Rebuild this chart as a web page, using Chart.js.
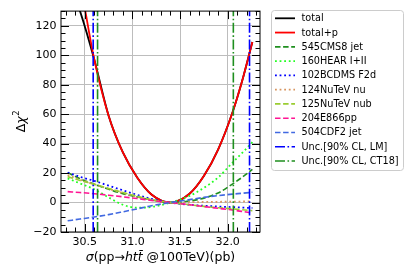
<!DOCTYPE html>
<html>
<head>
<meta charset="utf-8">
<script src="https://cdn.jsdelivr.net/npm/chart.js@4.4.0/dist/chart.umd.min.js"></script>
<style>
  html, body { margin: 0; padding: 0; background: #fff; }
</style>
</head>
<body>
<canvas id="chart" width="420" height="280"></canvas>
<script>
// sample points along sigma (pb)
const xs = [30.32, 30.45, 30.6, 30.75, 30.9, 31.05, 31.2, 31.4, 31.6, 31.75, 31.9, 32.05, 32.15, 32.26];

const total    = [153, 130, 97, 59, 34, 17, 5.5, 0, 6, 18, 36, 61, 82, 109];
const totalP   = [175, 148, 97, 59, 34, 17, 5.5, 0, 6, 18, 36, 61, 82, 109];
const cms8jet  = [20.3, 16.2, 12.5, 9, 6, 3.8, 1.8, 0, 1, 3, 6.5, 12.5, 17, 22.5];
const hera     = [16.4, 13, 9, 3.5, -1.5, -3.5, -3, 0, 4.5, 10, 17, 27, 33.5, 41];
const bcdms    = [20.3, 17.5, 14.7, 11.5, 8.3, 5.2, 2.5, 0, -1.5, -2.2, -2.7, -3.1, -3.4, -3.7];
const nutevNu  = [18.7, 15.5, 12.3, 9.3, 6.5, 4, 1.8, 0, 0.2, 0.4, 0.5, 0.6, 0.7, 0.8];
const nutevNub = [17.6, 15, 12.4, 9.6, 6.8, 4.3, 2, 0, -1.5, -2.6, -3.5, -4.3, -4.9, -5.5];
const e866pp   = [7.4, 6.8, 6, 5, 3.9, 2.7, 1.4, 0, -1.5, -2.7, -3.9, -5.1, -6, -7.2];
const cdf2jet  = [-12.4, -11.2, -9.8, -8.2, -6.3, -4.3, -2.2, 0, 2, 3.5, 4.7, 5.7, 6.3, 7];

// 90% CL bounds (pb)
const lmBounds   = [30.588, 32.23];
const ct18Bounds = [30.634, 32.06];

const xRange = [30.25, 32.34];
const yRange = [-20, 130];
const xTicks = [30.5, 31.0, 31.5, 32.0];
const yTicks = [-20, 0, 20, 40, 60, 80, 100, 120];
const xMinorStep = 0.1;
const yMinorStep = 5;

const DASHED = [5.5, 2.6];
const DOTTED = [1.8, 2.8];
const DASHDOT = [10, 2.5, 1.6, 2.5];

const series = (label, ys, color, width, dash) => ({
  label: label,
  data: xs.map((x, i) => ({ x: x, y: ys[i] })),
  borderColor: color,
  borderWidth: width,
  borderDash: dash,
  pointRadius: 0,
  cubicInterpolationMode: "monotone",
  fill: false,
});

const vlines = (label, bounds, color) => ({
  label: label,
  data: [
    { x: bounds[0], y: yRange[0] },
    { x: bounds[0], y: yRange[1] },
    { x: bounds[0], y: null },
    { x: bounds[1], y: yRange[0] },
    { x: bounds[1], y: yRange[1] },
  ],
  borderColor: color,
  borderWidth: 1.6,
  borderDash: DASHDOT,
  pointRadius: 0,
  tension: 0,
  spanGaps: false,
  fill: false,
});

const datasets = [
  series("total", total, "#000000", 1.8, []),
  series("total+p", totalP, "#ff0000", 1.8, []),
  series("545CMS8 jet", cms8jet, "#1f8f1f", 1.6, DASHED),
  series("160HEAR I+II", hera, "#22ff22", 1.8, DOTTED),
  series("102BCDMS F2d", bcdms, "#0000ff", 1.8, DOTTED),
  series("124NuTeV nu", nutevNu, "#d8955f", 1.8, DOTTED),
  series("125NuTeV nub", nutevNub, "#9acd32", 1.6, DASHED),
  series("204E866pp", e866pp, "#ff1493", 1.6, DASHED),
  series("504CDF2 jet", cdf2jet, "#4169e1", 1.6, DASHED),
  vlines("Unc.[90% CL, LM]", lmBounds, "#0000ff"),
  vlines("Unc.[90% CL, CT18]", ct18Bounds, "#1f8f1f"),
];
// later datasets on top, like matplotlib
datasets.forEach((d, i) => { d.order = datasets.length - i; });

const FONT = '"DejaVu Sans", sans-serif';

const frameAndTicks = {
  id: "frameAndTicks",
  afterDatasetsDraw(chart) {
    const { ctx, chartArea: a, scales } = chart;
    const sx = scales.x, sy = scales.y;
    ctx.save();
    ctx.strokeStyle = "#000";
    ctx.lineWidth = 1;
    ctx.setLineDash([]);
    const tick = (x1, y1, x2, y2) => {
      ctx.beginPath(); ctx.moveTo(x1, y1); ctx.lineTo(x2, y2); ctx.stroke();
    };
    for (let v = Math.ceil(xRange[0] / xMinorStep) * xMinorStep; v <= xRange[1]; v += xMinorStep) {
      const major = xTicks.some((t) => Math.abs(t - v) < 1e-6);
      const len = major ? 8 : 4.5;
      const px = Math.round(sx.getPixelForValue(v)) + 0.5;
      tick(px, a.bottom, px, a.bottom - len);
      tick(px, a.top, px, a.top + len);
    }
    for (let v = yRange[0]; v <= yRange[1]; v += yMinorStep) {
      const major = yTicks.includes(v);
      const len = major ? 8 : 4.5;
      const py = Math.round(sy.getPixelForValue(v)) + 0.5;
      tick(a.left, py, a.left + len, py);
      tick(a.right, py, a.right - len, py);
    }
    ctx.strokeRect(a.left, a.top, a.right - a.left, a.bottom - a.top);
    ctx.restore();
  },
  afterDraw(chart) {
    const { ctx, chartArea: a } = chart;
    ctx.save();
    ctx.fillStyle = "#000";
    // x title with italic parts
    const parts = [
      ["σ", true], ["(pp→", false], ["htt\u0304", true], [" @100TeV)(pb)", false],
    ];
    const size = 12.5;
    const fontFor = (it) => (it ? "italic " : "") + size + "px " + FONT;
    let w = 0;
    parts.forEach(([t, it]) => { ctx.font = fontFor(it); w += ctx.measureText(t).width; });
    let x = (a.left + a.right) / 2 - w / 2;
    ctx.textBaseline = "middle";
    ctx.textAlign = "left";
    parts.forEach(([t, it]) => {
      ctx.font = fontFor(it);
      ctx.fillText(t, x, 258);
      x += ctx.measureText(t).width;
    });
    // y title
    ctx.translate(22, (a.top + a.bottom) / 2);
    ctx.rotate(-Math.PI / 2);
    ctx.font = size + "px " + FONT;
    const d = ctx.measureText("Δ").width;
    ctx.font = "italic " + size + "px " + FONT;
    const c = ctx.measureText("χ").width;
    ctx.font = "8.5px " + FONT;
    const s = ctx.measureText("2").width;
    let yx = -(d + c + s) / 2;
    ctx.font = size + "px " + FONT;
    ctx.fillText("Δ", yx, 0);
    yx += d;
    ctx.font = "italic " + size + "px " + FONT;
    ctx.fillText("χ", yx, 0);
    yx += c;
    ctx.font = "8.5px " + FONT;
    ctx.fillText("2", yx + 0.5, -5);
    ctx.restore();

    // legend
    ctx.save();
    const lx = 271, ly = 10, lw = 132, lh = 160, r = 3;
    ctx.beginPath();
    ctx.roundRect(lx + 0.5, ly + 0.5, lw, lh, r);
    ctx.fillStyle = "rgba(255,255,255,0.8)";
    ctx.fill();
    ctx.strokeStyle = "#cccccc";
    ctx.lineWidth = 1;
    ctx.stroke();
    chart.data.datasets.forEach((ds, i) => {
      const y = 18.3 + i * 14.27;
      ctx.setLineDash(ds.borderDash || []);
      ctx.strokeStyle = ds.borderColor;
      ctx.lineWidth = ds.borderWidth;
      ctx.beginPath();
      ctx.moveTo(275, y);
      ctx.lineTo(295, y);
      ctx.stroke();
      ctx.setLineDash([]);
      ctx.fillStyle = "#000";
      ctx.font = "9.7px " + FONT;
      ctx.textBaseline = "middle";
      ctx.fillText(ds.label, 301.5, y + 0.5);
    });
    ctx.restore();
  },
};

new Chart(document.getElementById("chart"), {
  type: "line",
  data: { datasets: datasets },
  options: {
    responsive: false,
    animation: false,
    layout: { padding: { top: 10, right: 160, left: 0, bottom: 0 } },
    plugins: {
      legend: { display: false },
      tooltip: { enabled: false },
    },
    scales: {
      x: {
        type: "linear",
        min: xRange[0],
        max: xRange[1],
        afterBuildTicks: (scale) => { scale.ticks = xTicks.map((v) => ({ value: v })); },
        afterFit: (scale) => { scale.height = 48; },
        grid: { color: "#bdbdbd", lineWidth: 1, drawTicks: false },
        border: { display: false },
        ticks: {
          color: "#000",
          padding: 4,
          maxRotation: 0,
          font: { family: FONT, size: 11 },
          callback: (v) => v.toFixed(1),
        },
      },
      y: {
        type: "linear",
        min: yRange[0],
        max: yRange[1],
        afterBuildTicks: (scale) => { scale.ticks = yTicks.map((v) => ({ value: v })); },
        afterFit: (scale) => { scale.width = 61; },
        grid: { color: "#bdbdbd", lineWidth: 1, drawTicks: false },
        border: { display: false },
        ticks: {
          color: "#000",
          padding: 4.5,
          font: { family: FONT, size: 11 },
          callback: (v) => (v < 0 ? "\u2212" + Math.abs(v) : String(v)),
        },
      },
    },
  },
  plugins: [frameAndTicks],
});
</script>
</body>
</html>
